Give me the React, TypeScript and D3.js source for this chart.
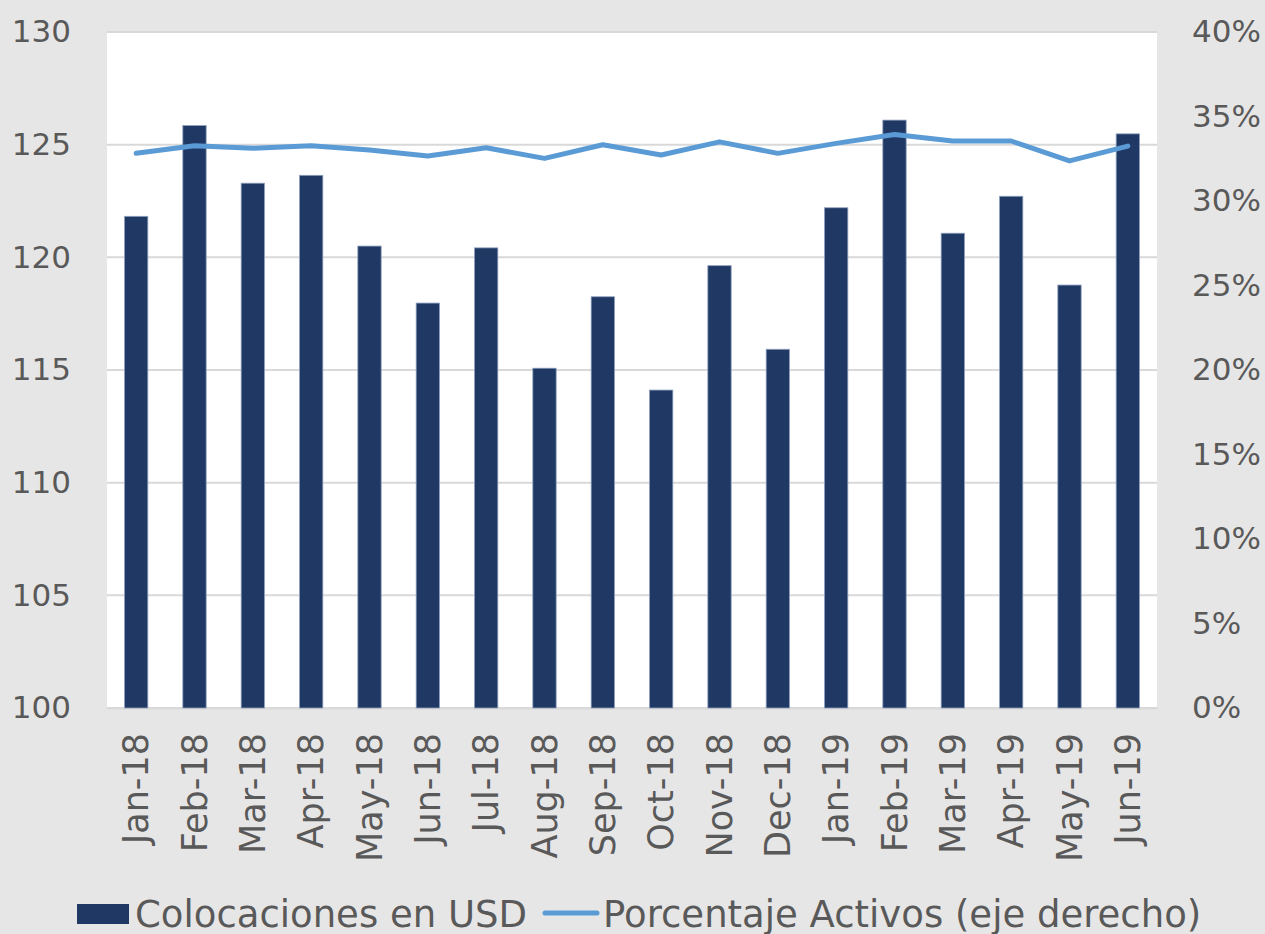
import React, { useEffect, useRef } from "react";
import * as d3 from "d3";

const months = [
  "Jan-18", "Feb-18", "Mar-18", "Apr-18", "May-18", "Jun-18",
  "Jul-18", "Aug-18", "Sep-18", "Oct-18", "Nov-18", "Dec-18",
  "Jan-19", "Feb-19", "Mar-19", "Apr-19", "May-19", "Jun-19",
];
// Colocaciones en USD (left axis)
const colocaciones = [
  121.82, 125.85, 123.29, 123.64, 120.5, 117.97,
  120.42, 115.08, 118.25, 114.11, 119.63, 115.92,
  122.2, 126.09, 121.07, 122.71, 118.77, 125.48,
];
// Porcentaje Activos (right axis, %)
const porcentaje = [
  32.82, 33.27, 33.12, 33.27, 33.02, 32.66,
  33.15, 32.52, 33.33, 32.72, 33.5, 32.82,
  33.41, 33.94, 33.55, 33.55, 32.37, 33.25,
];
const leftTicks = [100, 105, 110, 115, 120, 125, 130];
const rightTicks = [0, 5, 10, 15, 20, 25, 30, 35, 40];

const W = 1265;
const H = 934;
const FONT = "'Century Gothic', 'DejaVu Sans', sans-serif";

export default function App() {
  const ref = useRef<SVGSVGElement>(null);

  useEffect(() => {
    drawChart();
  }, []);

  function drawChart() {
    const svg = d3.select(ref.current);
    svg.selectAll("*").remove();

    const plot = { left: 107, right: 1157, top: 32, bottom: 708 };

    // scales
    const x = d3
      .scaleBand()
      .domain(months)
      .range([plot.left, plot.right])
      .paddingInner(0.6)
      .paddingOuter(0.3);
    const yLeft = d3.scaleLinear().domain([100, 130]).range([plot.bottom, plot.top]);
    const yRight = d3.scaleLinear().domain([0, 40]).range([plot.bottom, plot.top]);

    // background
    svg.append("rect").attr("width", W).attr("height", H).attr("fill", "#e7e6e6");
    svg
      .append("rect")
      .attr("x", plot.left)
      .attr("y", plot.top)
      .attr("width", plot.right - plot.left)
      .attr("height", plot.bottom - plot.top)
      .attr("fill", "#ffffff");

    // gridlines
    svg
      .append("g")
      .selectAll("line")
      .data(leftTicks)
      .join("line")
      .attr("x1", plot.left)
      .attr("x2", plot.right)
      .attr("y1", (d) => yLeft(d))
      .attr("y2", (d) => yLeft(d))
      .attr("stroke", "#d9d9d9")
      .attr("stroke-width", 2);

    // left axis
    svg
      .append("g")
      .attr("transform", `translate(${plot.left - 36},0)`)
      .call(d3.axisLeft(yLeft).tickValues(leftTicks).tickSize(0).tickPadding(0))
      .call((g) => g.select(".domain").remove())
      .call((g) =>
        g
          .selectAll("text")
          .attr("fill", "#595959")
          .attr("font-family", FONT)
          .attr("font-size", 31)
      );

    // right axis
    svg
      .append("g")
      .attr("transform", `translate(${plot.right + 35},0)`)
      .call(
        d3
          .axisRight(yRight)
          .tickValues(rightTicks)
          .tickSize(0)
          .tickPadding(0)
          .tickFormat((d) => `${d}%`)
      )
      .call((g) => g.select(".domain").remove())
      .call((g) =>
        g
          .selectAll("text")
          .attr("fill", "#595959")
          .attr("font-family", FONT)
          .attr("font-size", 31)
      );

    // bottom axis
    svg
      .append("g")
      .attr("transform", `translate(0,${plot.bottom})`)
      .call(d3.axisBottom(x).tickSize(0).tickPadding(0))
      .call((g) => g.select(".domain").attr("stroke", "#d9d9d9").attr("stroke-width", 2))
      .call((g) =>
        g
          .selectAll("text")
          .attr("fill", "#595959")
          .attr("font-family", FONT)
          .attr("font-size", 35)
          .attr("text-anchor", "end")
          .attr("dominant-baseline", "central")
          .attr("dy", null)
          .attr("y", 0)
          .attr("transform", "translate(0,25) rotate(-90)")
      );

    // bars
    svg
      .append("g")
      .selectAll("rect")
      .data(colocaciones)
      .join("rect")
      .attr("x", (d, i) => x(months[i]))
      .attr("y", (d) => yLeft(d))
      .attr("width", x.bandwidth())
      .attr("height", (d) => yLeft(100) - yLeft(d))
      .attr("fill", "#203864")
      .attr("stroke", "#8fa0bf")
      .attr("stroke-width", 0.8);

    // line
    const line = d3
      .line<number>()
      .x((d, i) => x(months[i]) + x.bandwidth() / 2)
      .y((d) => yRight(d));
    svg
      .append("path")
      .datum(porcentaje)
      .attr("d", line)
      .attr("fill", "none")
      .attr("stroke", "#5b9bd5")
      .attr("stroke-width", 5)
      .attr("stroke-linecap", "round")
      .attr("stroke-linejoin", "round");

    // legend
    const legend = svg.append("g").attr("font-family", FONT).attr("font-size", 37).attr("fill", "#595959");
    legend.append("rect").attr("x", 77).attr("y", 904).attr("width", 52).attr("height", 20).attr("fill", "#203864");
    legend.append("text").attr("x", 135).attr("y", 914).attr("dominant-baseline", "central").text("Colocaciones en USD");
    legend
      .append("line")
      .attr("x1", 545)
      .attr("x2", 597)
      .attr("y1", 913)
      .attr("y2", 913)
      .attr("stroke", "#5b9bd5")
      .attr("stroke-width", 5)
      .attr("stroke-linecap", "round");
    legend.append("text").attr("x", 603).attr("y", 914).attr("dominant-baseline", "central").text("Porcentaje Activos (eje derecho)");
  }

  return (
    <svg
      ref={ref}
      width={W}
      height={H}
      style={{ position: "absolute", left: 0, top: 0, display: "block" }}
    />
  );
}
